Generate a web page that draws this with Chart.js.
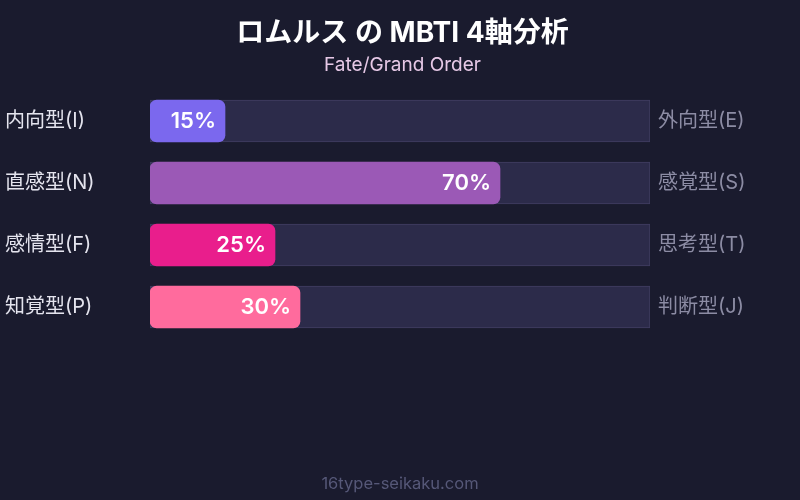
<!DOCTYPE html>
<html>
<head>
<meta charset="utf-8">
<script src="https://cdn.jsdelivr.net/npm/chart.js@4"></script>
<style>
  body { margin: 0; background: #1a1b2e; }
  canvas { display: block; }
</style>
</head>
<body>
<canvas id="mbtiChart" width="800" height="500"></canvas>
<script>
// === データ ===
const leftLabels = ['内向型(I)', '直感型(N)', '感情型(F)', '知覚型(P)'];
const rightLabels = ['外向型(E)', '感覚型(S)', '思考型(T)', '判断型(J)'];
const scores = [15, 70, 25, 30];
const trackValues = [100, 100, 100, 100];
const barColors = ['#7b68ee', '#9b59b6', '#e91e8c', '#ff6b9d'];

const FONT = "Inter, 'Noto Sans CJK JP', sans-serif";

// バーの中の % 表示
const percentLabels = {
    id: 'percentLabels',
    afterDatasetsDraw(chart) {
        const ctx = chart.ctx;
        const meta = chart.getDatasetMeta(0);
        ctx.save();
        ctx.font = '600 22px ' + FONT;
        ctx.fillStyle = '#ffffff';
        ctx.textAlign = 'right';
        ctx.textBaseline = 'middle';
        meta.data.forEach((bar, i) => {
            ctx.fillText(scores[i] + '%', bar.x - 9, bar.y);
        });
        ctx.restore();
    }
};

// フッター
const footer = {
    id: 'footer',
    afterDraw(chart) {
        const ctx = chart.ctx;
        ctx.save();
        ctx.font = '16.5px ' + FONT;
        ctx.fillStyle = '#565878';
        ctx.textAlign = 'center';
        ctx.textBaseline = 'middle';
        ctx.fillText('16type-seikaku.com', chart.width / 2, 484);
        ctx.restore();
    }
};

new Chart(document.getElementById('mbtiChart'), {
    type: 'bar',
    data: {
        labels: leftLabels,
        datasets: [
            {
                data: scores,
                backgroundColor: barColors,
                borderRadius: 7,
                borderSkipped: false,
                barThickness: 42,
                grouped: false,
                order: 1
            },
            {
                data: trackValues,
                backgroundColor: '#2c2b4a',
                borderColor: '#403e62',
                borderWidth: 1,
                borderSkipped: false,
                barThickness: 42,
                grouped: false,
                order: 2
            }
        ]
    },
    options: {
        indexAxis: 'y',
        responsive: false,
        animation: false,
        layout: { padding: { left: 5, right: 0, top: 0, bottom: 162 } },
        plugins: {
            legend: { display: false },
            tooltip: { enabled: false },
            title: {
                display: true,
                text: 'ロムルス の MBTI 4軸分析',
                color: '#ffffff',
                font: { family: FONT, size: 28, weight: 'bold' },
                padding: { top: 17, bottom: 3 }
            },
            subtitle: {
                display: true,
                text: 'Fate/Grand Order',
                color: '#e6c8e6',
                font: { family: FONT, size: 19 },
                padding: { top: 0, bottom: 13.6 }
            }
        },
        scales: {
            x: { min: 0, max: 100, display: false },
            y: {
                position: 'left',
                grid: { display: false, drawTicks: false },
                border: { display: false },
                ticks: {
                    color: '#e4e4ee',
                    crossAlign: 'far',
                    padding: 8,
                    font: { family: FONT, size: 20 }
                },
                afterFit(scale) { scale.width = 145; }
            },
            y2: {
                type: 'category',
                labels: rightLabels,
                position: 'right',
                offset: true,
                grid: { display: false, drawTicks: false },
                border: { display: false },
                ticks: {
                    color: '#8c8ca4',
                    crossAlign: 'near',
                    padding: 8,
                    font: { family: FONT, size: 20 }
                },
                afterFit(scale) { scale.width = 150; }
            }
        }
    },
    plugins: [percentLabels, footer]
});
</script>
</body>
</html>
